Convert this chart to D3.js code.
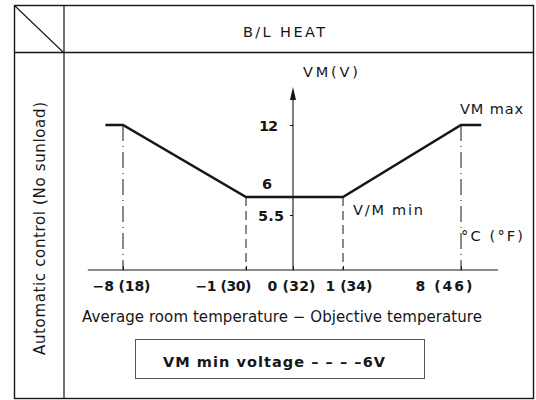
<!DOCTYPE html>
<html>
<head>
<meta charset="utf-8">
<script src="https://cdn.jsdelivr.net/npm/d3@7/dist/d3.min.js"></script>
<style>
  html, body { margin: 0; padding: 0; background: #fff; }
  svg { display: block; font-family: "DejaVu Sans", "Liberation Sans", Arial, sans-serif; }
</style>
</head>
<body>
<svg id="chart" width="536" height="400"></svg>
<script>
// Temperature difference ticks (°C) and their °F equivalents
const tempC = [-8, -1, 0, 1, 8];
const tempF = [18, 30, 32, 34, 46];
// Blower motor voltage curve: x = temperature difference, y = VM (V)
const curveX = [-9, -8, -1, 1, 8, 9.2];
const curveV = [12, 12, 6, 6, 12, 12];
// Voltage ticks and their labels
const voltTicks = [12, 6, 5.5];
const voltLabels = ["12", "6", "5.5"];
// Break points where the guide lines drop to the axis
const guideX = [-8, -1, 1, 8];
const guideV = [12, 6, 6, 12];

const svg = d3.select("#chart");
const ink = "#161616";
const face = "DejaVu Sans, Liberation Sans, Arial, sans-serif";

// Non-uniform scales: the drawing is not to scale between the break points
const x = d3.scaleLinear().domain(tempC).range([123, 246, 293, 343, 461]);
const y = d3.scaleLinear().domain([0, 5.5, 6, 12]).range([270, 215, 197, 125]);

// ---- table frame ----
const frame = svg.append("g").attr("fill", "none").attr("stroke", ink);
frame.append("rect").attr("x", 14.5).attr("y", 5.5).attr("width", 519).attr("height", 393).attr("stroke-width", 1.4);
frame.append("line").attr("x1", 14).attr("x2", 534).attr("y1", 52.5).attr("y2", 52.5).attr("stroke-width", 1.4);
frame.append("line").attr("x1", 64).attr("x2", 64).attr("y1", 5).attr("y2", 399).attr("stroke-width", 1.2);
frame.append("line").attr("x1", 15).attr("y1", 6).attr("x2", 63).attr("y2", 52).attr("stroke-width", 1.1);

svg.append("text").attr("x", 284).attr("y", 37).attr("text-anchor", "middle")
  .attr("font-size", 14.5).attr("textLength", 82).attr("lengthAdjust", "spacing")
  .attr("fill", ink).text("B/L HEAT");

svg.append("text").attr("transform", "translate(45,228.5) rotate(-90)")
  .attr("text-anchor", "middle").attr("font-size", 15)
  .attr("textLength", 253).attr("lengthAdjust", "spacing")
  .attr("fill", ink).text("Automatic control (No sunload)");

// ---- axes ----
const axes = svg.append("g").attr("stroke", ink).attr("fill", "none");
axes.append("line").attr("x1", x(-10)).attr("x2", x(10.2)).attr("y1", y(0)).attr("y2", y(0)).attr("stroke-width", 1.1);
axes.append("line").attr("x1", x(0)).attr("x2", x(0)).attr("y1", y(0)).attr("y2", 96).attr("stroke-width", 1.1);
svg.append("path").attr("d", `M${x(0)},87 L${x(0) - 3},100 L${x(0) + 3},100 Z`).attr("fill", ink);

const xAxis = d3.axisBottom(x).tickValues(tempC).tickSizeInner(-4).tickSizeOuter(0)
  .tickFormat((d, i) => `${d < 0 ? "\u2212" + (-d) : d} (${tempF[i]})`);
const gx = svg.append("g").attr("transform", `translate(0,${y(0)})`).call(xAxis);
gx.select(".domain").remove();
gx.selectAll(".tick line").attr("stroke", ink);
// label placement and width relative to each tick
const labelShift = [-2, -23, -2, 5.5, -17.5];
const labelWidth = [58, 56, 48, 47, 57];
gx.selectAll(".tick text").attr("font-size", 14).attr("font-weight", "bold")
  .attr("fill", ink).attr("font-family", face)
  .attr("textLength", (d, i) => labelWidth[i]).attr("lengthAdjust", "spacing")
  .attr("dy", "1.25em").attr("dx", (d, i) => labelShift[i]);

const yAxis = d3.axisLeft(y).tickValues(voltTicks).tickSizeInner(3).tickSizeOuter(0)
  .tickFormat((d, i) => voltLabels[i]);
const gy = svg.append("g").attr("transform", `translate(${x(0)},0)`).call(yAxis);
gy.select(".domain").remove();
gy.selectAll(".tick line").attr("stroke", ink);
gy.selectAll(".tick text").attr("font-size", 14.5).attr("font-weight", "bold").attr("fill", ink)
  .attr("font-family", face)
  .attr("x", (d) => d === 12 ? -15 : (d === 6 ? -31 : -9))
  .attr("dy", (d) => d === 6 ? "-0.6em" : "0.38em")
  .attr("text-anchor", (d) => d === 6 ? "start" : "end")
  .attr("textLength", (d) => d === 12 ? 19 : (d === 6 ? 9 : 26)).attr("lengthAdjust", "spacing");

// ---- guide lines ----
svg.append("g").selectAll("line").data(guideX).join("line")
  .attr("x1", (d) => x(d)).attr("x2", (d) => x(d))
  .attr("y1", (d, i) => y(guideV[i])).attr("y2", y(0))
  .attr("stroke", ink).attr("stroke-width", 1)
  .attr("stroke-dasharray", (d, i) => guideV[i] === 12 ? "16,5,1,5" : "9,5");

// ---- voltage curve ----
const line = d3.line().x((d) => x(d[0])).y((d) => y(d[1]));
svg.append("path").datum(d3.zip(curveX, curveV)).attr("d", line)
  .attr("fill", "none").attr("stroke", ink).attr("stroke-width", 2.6).attr("stroke-linejoin", "miter");

// ---- annotations ----
const ann = svg.append("g").attr("fill", ink).attr("font-size", 14.5).attr("lengthAdjust", "spacing");
ann.append("text").attr("x", 303).attr("y", 77).attr("textLength", 55).text("VM(V)");
ann.append("text").attr("x", 460).attr("y", 114).attr("textLength", 63).text("VM max");
ann.append("text").attr("x", 353).attr("y", 215).attr("textLength", 70).text("V/M min");
ann.append("text").attr("x", 461).attr("y", 241).attr("textLength", 62).text("°C (°F)");

svg.append("text").attr("x", 282).attr("y", 322).attr("text-anchor", "middle")
  .attr("font-size", 15).attr("textLength", 400).attr("lengthAdjust", "spacing").attr("fill", ink)
  .text("Average room temperature \u2212 Objective temperature");

// ---- legend box ----
svg.append("rect").attr("x", 135.5).attr("y", 339.5).attr("width", 289).attr("height", 39)
  .attr("fill", "none").attr("stroke", "#555").attr("stroke-width", 1);
svg.append("text").attr("x", 163).attr("y", 367).attr("font-size", 14.5).attr("font-weight", "bold")
  .attr("textLength", 222).attr("lengthAdjust", "spacing")
  .attr("fill", ink).text("VM min voltage \u2013 \u2013 \u2013 \u20136V");
</script>
</body>
</html>
